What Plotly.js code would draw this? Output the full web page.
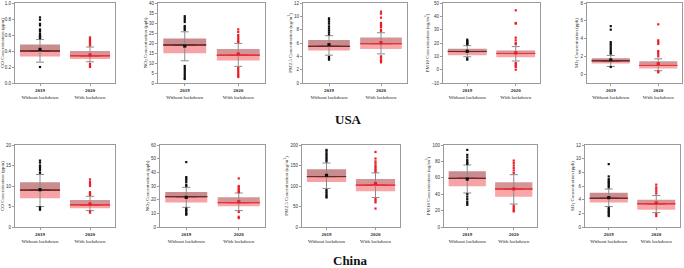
<!DOCTYPE html>
<html><head><meta charset="utf-8">
<script src="https://cdn.plot.ly/plotly-3.0.1.min.js"></script>
<style>html,body{margin:0;padding:0;background:#fff}#chart{width:684px;height:268px}</style>
</head><body><div id="chart"></div>
<script>
const categories = ["<b>2019</b><br>Without lockdown", "<b>2020</b><br>With lockdown"];
const panelNames = ["USA CO","USA NO2","USA PM2.5","USA PM10","USA SO2","China CO","China NO2","China PM2.5","China PM10","China SO2"];
const yTitles = [
  "CO Concentration (ppm)", "NO<sub>2</sub> Concentration (ppb)", "PM2.5 Concentration (ug/m<sup>3</sup>)",
  "PM10 Concentration (ug/m<sup>3</sup>)", "SO<sub>2</sub> Concentration (ppb)",
  "CO Concentration (ppm)", "NO<sub>2</sub> Concentration (ppb)", "PM2.5 Concentration (ug/m<sup>3</sup>)",
  "PM10 Concentration (ug/m<sup>3</sup>)", "SO<sub>2</sub> Concentration (ppb)"
];
const yRanges = [[0,1],[0,40],[0,12],[-10,50],[-1,8],[0,20],[0,60],[0,200],[0,100],[0,12]];
const yDticks = [0.2,5,2,10,2,5,10,50,20,2];
const regionLabels = ["USA", "China"];

// 2019 (without lockdown)
const q1_2019   = [0.33, 14.9, 4.86, 10.9, 1.20, 7.0, 18.0, 110, 49.6, 3.6];
const med_2019  = [0.40, 19.0, 5.50, 13.6, 1.50, 9.0, 22.2, 123, 59.3, 4.2];
const q3_2019   = [0.48, 22.3, 6.45, 15.6, 1.79, 10.9, 25.6, 141, 68.0, 5.0];
const mean_2019 = [0.42, 18.5, 5.75, 13.8, 1.60, 9.1, 21.7, 126, 58.5, 4.3];
const wlo_2019  = [0.26, 11.1, 4.17, 9.7, 0.86, 5.0, 14.4, 94, 41.5, 3.0];
const whi_2019  = [0.545, 25.6, 7.1, 18.0, 2.1, 12.8, 29.0, 156, 75.6, 5.56];
const out_2019 = [
  [0.82,0.79,0.74,0.72,0.67,0.65,0.62,0.60,0.59,0.58,0.57,0.56,0.20],
  [33.4,32.5,31.5,30.5,28.5,27.8,27.2,26.5,8.5,7.5,6.5,5.5,4.5,3.5,2.5,2.0],
  [9.7,9.5,9.2,8.9,8.5,8.2,7.9,7.6,7.3,3.9,3.7,3.5],
  [22.5,21.5,21,20,19.5,19,8.5,7.5],
  [5.4,5.0,3.6,3.4,3.2,3.0,2.8,2.6,2.4,2.3,0.8],
  [16.2,15.7,15.0,14.6,14.2,13.8,13.2,4.8,4.5,4.2],
  [47.5,36.5,35.5,34.5,33,31,30,13.5,12.5,11.5,10.5,9.5,9.0],
  [188,185,180,176,172,168,164,160,90,86,82,78,74,72],
  [94,88,85,82,80,78,77,40,37,34,31,29,27],
  [9.2,7.4,7.0,6.8,6.6,6.4,6.2,6.0,5.8,2.8,2.6,2.4,2.2,2.0,1.8,1.6]
];

// 2020 (with lockdown)
const q1_2020   = [0.30, 11.2, 5.10, 9.4, 0.62, 4.6, 15.1, 87, 37.0, 2.54];
const med_2020  = [0.34, 13.9, 5.90, 12.1, 0.97, 5.4, 17.8, 102, 46.3, 3.4];
const q3_2020   = [0.40, 17.0, 6.84, 14.3, 1.45, 6.6, 21.7, 117, 54.5, 4.0];
const mean_2020 = [0.35, 14.5, 6.05, 12.6, 1.16, 5.6, 18.5, 106, 46.5, 3.5];
const wlo_2020  = [0.265, 8.3, 4.36, 6.5, 0.38, 4.0, 12.0, 72, 28.0, 2.1];
const whi_2020  = [0.45, 19.8, 7.54, 17.3, 1.72, 7.5, 24.9, 132, 63.8, 4.6];
const out_2020 = [
  [0.57,0.55,0.53,0.52,0.50,0.48,0.47,0.24,0.22,0.20],
  [26.8,25.5,24,23,22,21,20.5,7.5,6.5,5.5,4.5,3.8,3.0],
  [10.7,10.4,9.8,9.0,8.8,8.6,8.4,8.0,7.8,4.0,3.8,3.5,3.3,3.1],
  [44.5,35,34.5,24,22,20,19,5,4,3,2,0],
  [5.6,3.8,3.6,3.4,2.6,2.4,2.2,2.0,0.3,0.2],
  [11.6,11.0,10.5,10.0,8.5,8.2,8.0,7.8,3.8,3.5],
  [35.5,30,29,28,27,26,25.5,11,7.5,6.5],
  [183,167,160,155,150,146,142,138,135,68,64,60,45],
  [81,78,75,72,69,66,26,24,22,20,19],
  [6.2,5.8,5.5,5.2,4.9,1.9,1.6]
];

// ---- layout geometry (pixels) ----
const W = 684, H = 268;
const xPix = [[15,115],[158,265],[303,407],[443,540],[587,682],[15,115],[160,265],[302,400],[444,537],[585,680]];
const yPix = [[3,83],[145,227]];
const regionPos = [[349,120],[350,260]];

const data = [];
const layout = {
  width: W, height: H, margin: {l:0,r:0,t:0,b:0},
  paper_bgcolor: '#fff', plot_bgcolor: '#fff',
  showlegend: false, barmode: 'overlay', boxmode: 'overlay',
  font: {family: 'Liberation Serif', size: 5, color: '#222'},
  annotations: []
};

const lowCol = ['#f5a3a6', '#f8a6a8'];
const upCol = ['#c98c8f', '#d49598'];
const medCol = ['#6e2a2a', '#e8323a'];
const ptCol = ['#111111', '#ee1c25'];

for (let i = 0; i < 10; i++) {
  const s = i === 0 ? '' : String(i + 1);
  const xa = 'x' + s, ya = 'y' + s;
  const q1 = [q1_2019[i], q1_2020[i]], md = [med_2019[i], med_2020[i]], q3 = [q3_2019[i], q3_2020[i]];
  const mn = [mean_2019[i], mean_2020[i]], lo = [wlo_2019[i], wlo_2020[i]], hi = [whi_2019[i], whi_2020[i]];
  const outs = [out_2019[i], out_2020[i]];

  // whiskers
  data.push({
    type: 'scatter', mode: 'markers', x: categories, y: md, xaxis: xa, yaxis: ya,
    marker: {size: 1, color: 'rgba(0,0,0,0)'}, hoverinfo: 'skip',
    error_y: {type: 'data', symmetric: false, array: hi.map((v,k)=>v-md[k]), arrayminus: md.map((v,k)=>v-lo[k]),
              color: '#8a8a8a', thickness: 1, width: 4}
  });
  // lower box half
  data.push({type: 'bar', x: categories, base: q1, y: md.map((v,k)=>v-q1[k]), width: 0.8,
    xaxis: xa, yaxis: ya, marker: {color: lowCol, line: {width: 0}}, hoverinfo: 'skip'});
  // upper box half
  data.push({type: 'bar', x: categories, base: md, y: q3.map((v,k)=>v-md[k]), width: 0.8,
    xaxis: xa, yaxis: ya, marker: {color: upCol, line: {width: 0}}, hoverinfo: 'skip'});
  for (let k = 0; k < 2; k++) {
    // median line
    data.push({type: 'box', x: [categories[k]], q1: [md[k]], median: [md[k]], q3: [md[k]],
      lowerfence: [md[k]], upperfence: [md[k]], width: 0.8, xaxis: xa, yaxis: ya,
      line: {color: medCol[k], width: 1}, fillcolor: 'rgba(0,0,0,0)', hoverinfo: 'skip'});
    // outliers
    data.push({type: 'scatter', mode: 'markers', x: outs[k].map(()=>categories[k]), y: outs[k],
      xaxis: xa, yaxis: ya, marker: {symbol: 'square', size: 2.2, color: ptCol[k]}, hoverinfo: 'skip'});
    // mean
    data.push({type: 'scatter', mode: 'markers', x: [categories[k]], y: [mn[k]],
      xaxis: xa, yaxis: ya, marker: {symbol: 'square', size: 3.2, color: ptCol[k]}, hoverinfo: 'skip'});
  }

  const row = i < 5 ? 0 : 1;
  layout['xaxis' + s] = {
    domain: [xPix[i][0]/W, xPix[i][1]/W], anchor: ya, type: 'category',
    range: [-0.5, 1.5], showline: true, mirror: true, linecolor: '#9a9a9a', linewidth: 1,
    ticks: 'outside', ticklen: 2, tickcolor: '#9a9a9a', showgrid: false, zeroline: false,
    tickfont: {family: 'Liberation Serif', size: 5, color: '#222'}, fixedrange: true
  };
  layout['yaxis' + s] = {
    domain: [1 - yPix[row][1]/H, 1 - yPix[row][0]/H], anchor: xa,
    range: yRanges[i], tick0: 0, dtick: yDticks[i], tickformat: i === 0 ? '.1f' : '',
    showline: true, mirror: true, linecolor: '#9a9a9a', linewidth: 1,
    ticks: 'outside', ticklen: 2, tickcolor: '#9a9a9a', showgrid: false, zeroline: false,
    tickfont: {family: 'Liberation Sans', size: 4.5, color: '#333'},
    title: {text: yTitles[i], font: {family: 'Liberation Serif', size: 5, color: '#222'}, standoff: 1},
    fixedrange: true
  };
}

regionLabels.forEach((t, r) => {
  layout.annotations.push({
    text: '<b>' + t + '</b>', xref: 'paper', yref: 'paper',
    x: regionPos[r][0]/W, y: 1 - regionPos[r][1]/H, xanchor: 'center', yanchor: 'middle',
    showarrow: false, borderpad: 0, font: {family: 'Liberation Serif', size: 13, color: '#111'}
  });
});

Plotly.newPlot('chart', data, layout, {staticPlot: true, displayModeBar: false});
</script>
</body></html>
